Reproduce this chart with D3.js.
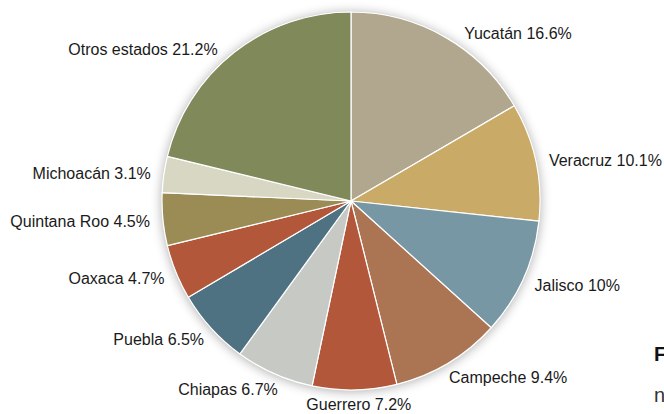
<!DOCTYPE html>
<html><head><meta charset="utf-8">
<script src="https://cdn.jsdelivr.net/npm/d3@7"></script>
<style>body{margin:0;background:#fff;overflow:hidden}text{font-family:"Liberation Sans",Arial,Helvetica,sans-serif}</style>
</head><body>
<svg id="c" width="664" height="414"></svg>
<script>
const categories = ["Yucatán","Veracruz","Jalisco","Campeche","Guerrero","Chiapas","Puebla","Oaxaca","Quintana Roo","Michoacán","Otros estados"];
const values = [16.6,10.1,10,9.4,7.2,6.7,6.5,4.7,4.5,3.1,21.2];
const valueLabels = ["16.6%","10.1%","10%","9.4%","7.2%","6.7%","6.5%","4.7%","4.5%","3.1%","21.2%"];
const colors = ["#b1a78f","#c9ab67","#7797a5","#ab7553","#b3573a","#c6c9c4","#4f7282","#b3573a","#9b8c55","#d8d7c4","#80895a"];

const svg = d3.select("#c");
const W = 664, H = 414;
const cx = 351, cy = 201, r = 189;
const lrX = 202, lrTop = 193, lrBottom = 206;
const defs = svg.append("defs");
const f = defs.append("filter").attr("id","sh").attr("x","-20%").attr("y","-20%").attr("width","140%").attr("height","140%");
f.append("feGaussianBlur").attr("in","SourceAlpha").attr("stdDeviation",6).attr("result","b");
f.append("feOffset").attr("in","b").attr("dx",0).attr("dy",1).attr("result","o");
f.append("feComponentTransfer").attr("in","o").attr("result","t").append("feFuncA").attr("type","linear").attr("slope",0.35);
const m = f.append("feMerge"); m.append("feMergeNode").attr("in","t"); m.append("feMergeNode").attr("in","SourceGraphic");

const data = categories.map((c,i)=>({name:c, value:values[i], label:valueLabels[i], color:colors[i]}));
const pie = d3.pie().value(d=>d.value).sort(null);
const arcs = pie(data);
const arc = d3.arc().innerRadius(0).outerRadius(r);
const g = svg.append("g").attr("transform",`translate(${cx},${cy})`);
g.append("circle").attr("r",r).attr("fill","#fff").attr("filter","url(#sh)");
g.selectAll("path").data(arcs).join("path")
  .attr("d",arc).attr("fill",d=>d.data.color)
  .attr("stroke","#fff").attr("stroke-width",1.2).attr("stroke-linejoin","round");
const maxY = H - cy - 10;
g.selectAll("text.l").data(arcs).join("text").attr("class","l")
  .each(function(d){
    const a = (d.startAngle+d.endAngle)/2;
    const c = Math.cos(a), s = Math.sin(a);
    const y = Math.min(maxY, -c * (c > 0 ? lrTop : lrBottom));
    let x;
    let anchor;
    if (Math.abs(s) < 0.1) { x = s*lrX + 4; anchor = "middle"; }
    else { x = Math.sign(s)*Math.sqrt(Math.max(0, lrX*lrX - y*y)); anchor = s > 0 ? "start" : "end"; }
    d3.select(this).attr("x",x).attr("y",y).attr("dy","0.35em").attr("text-anchor",anchor)
      .attr("font-size",16).attr("fill","#1a1a1a").text(d.data.name+" "+d.data.label);
  });
svg.append("text").attr("x",654).attr("y",361).attr("font-size",20).attr("font-weight","bold").attr("fill","#111").text("F");
svg.append("text").attr("x",654).attr("y",402).attr("font-size",20).attr("fill","#333").text("n");
</script>
</body></html>
